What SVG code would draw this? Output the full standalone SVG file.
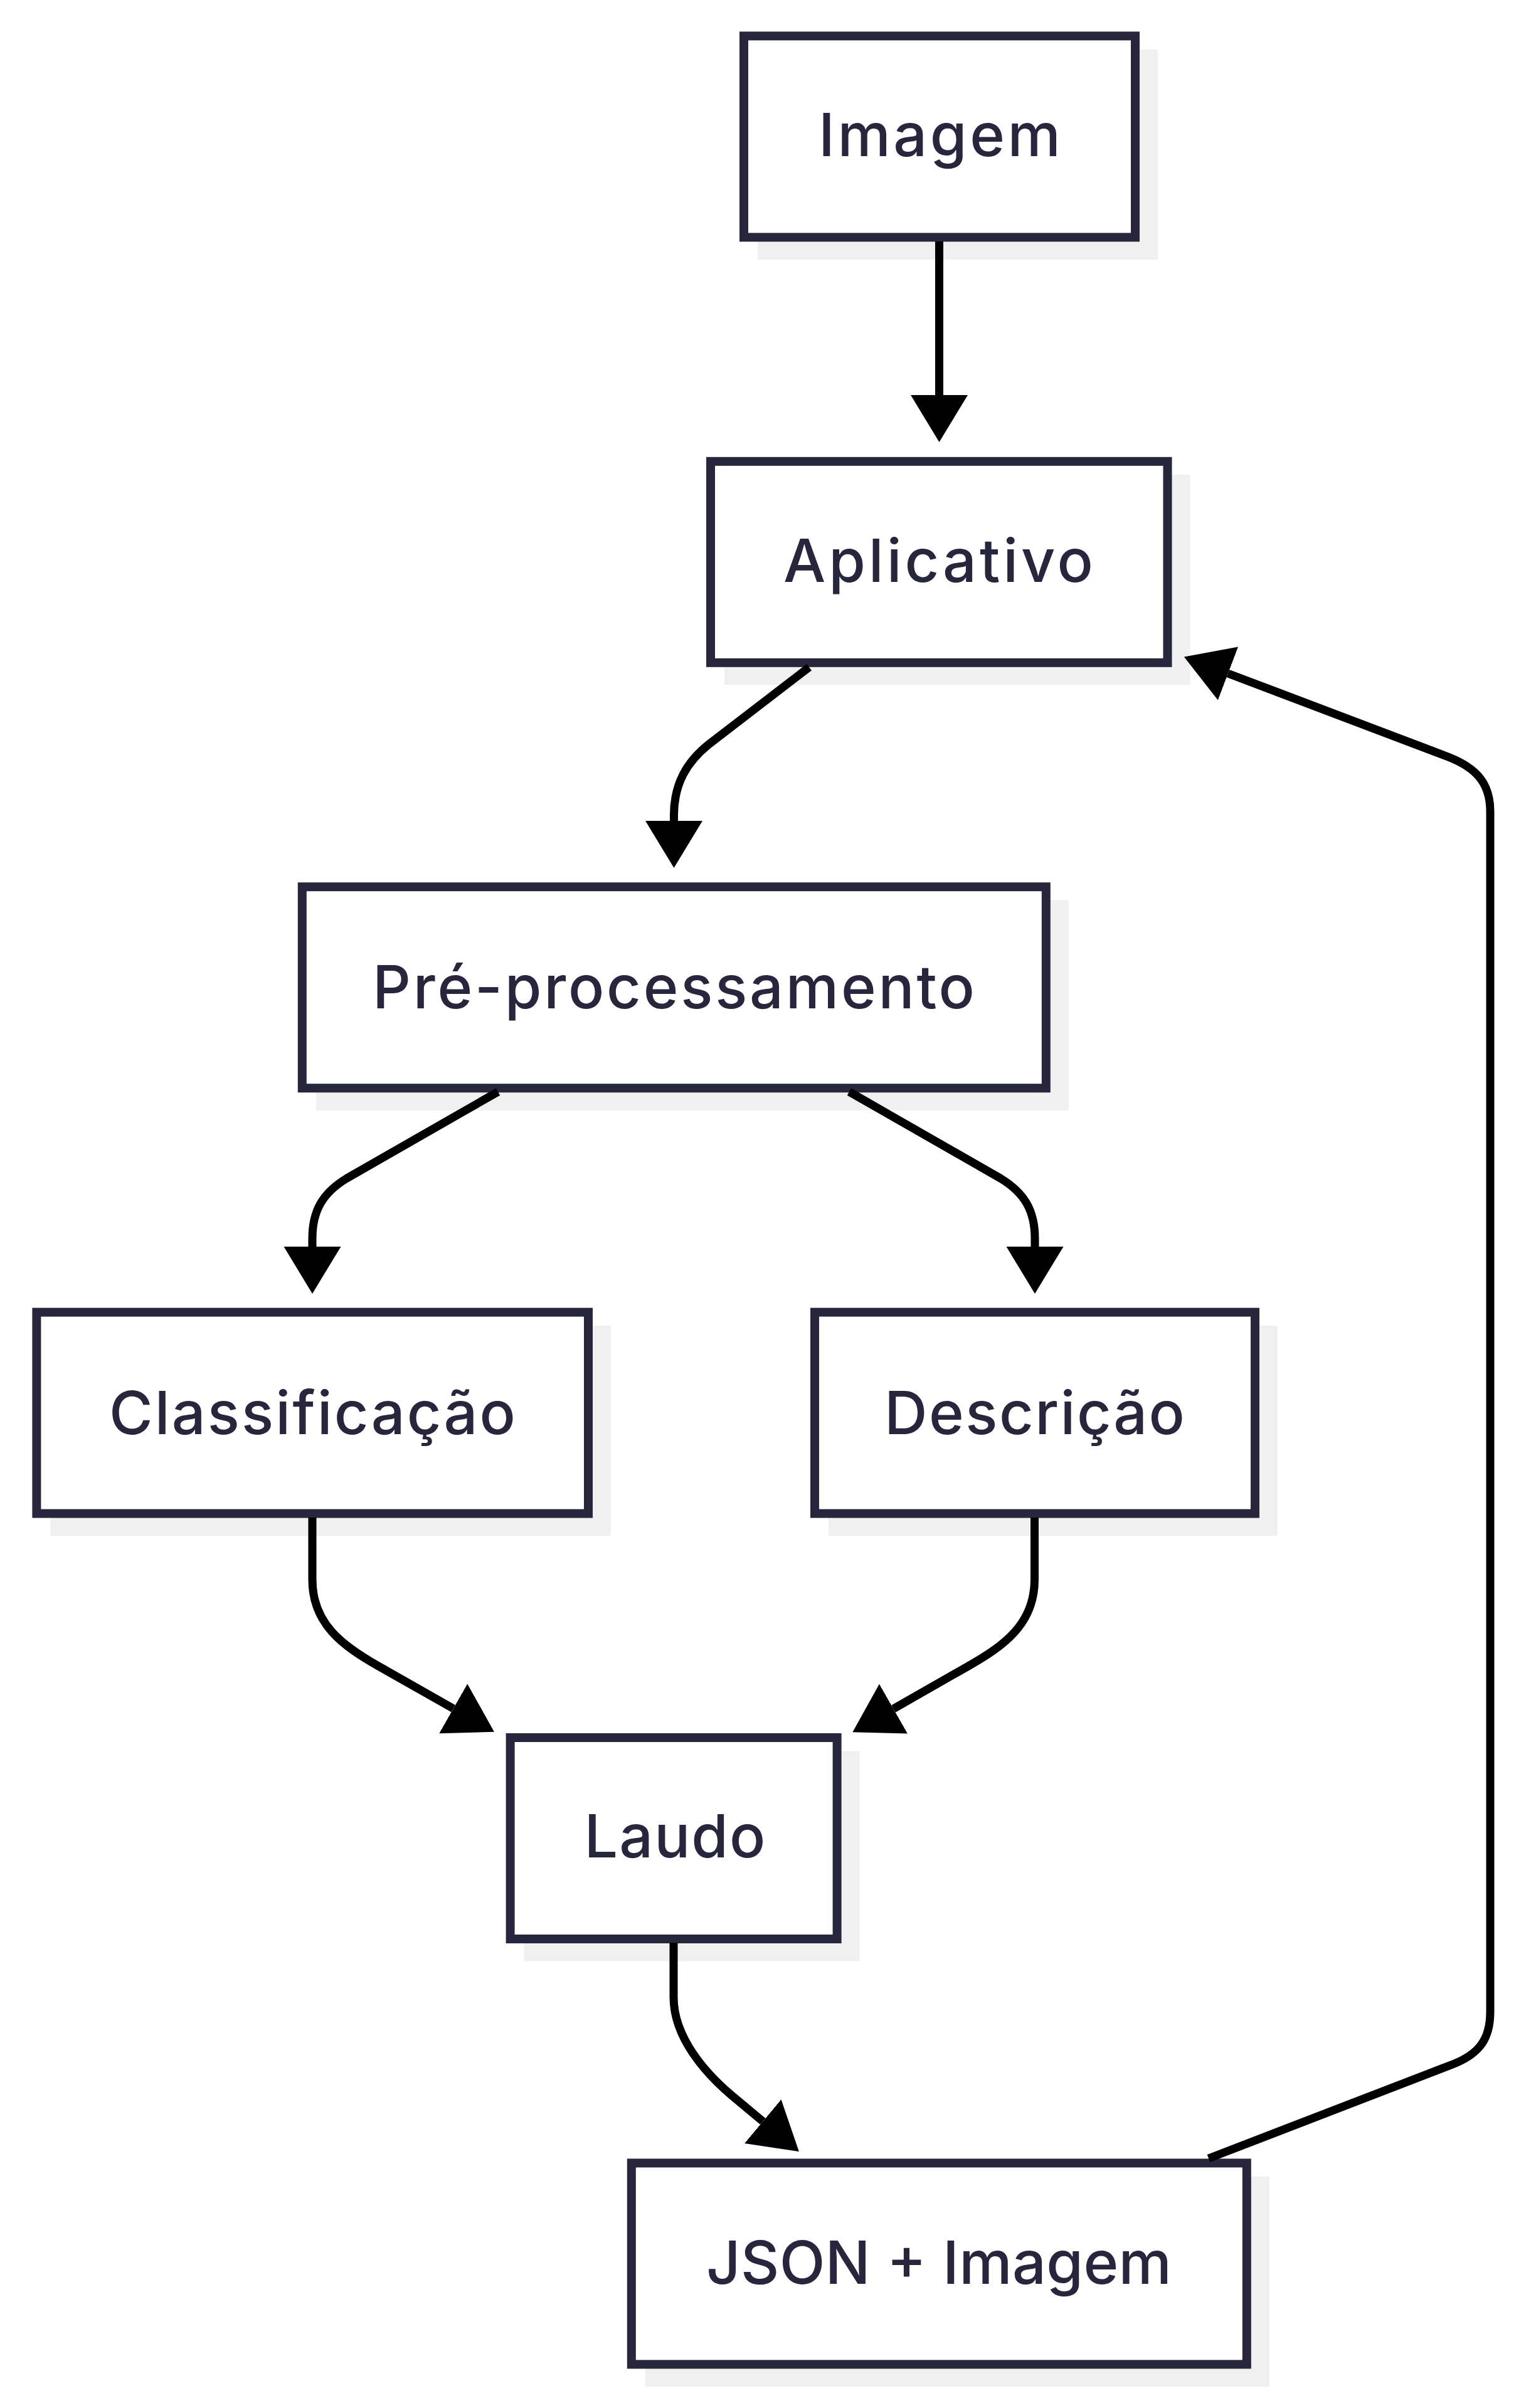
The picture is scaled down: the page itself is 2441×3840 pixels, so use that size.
<svg xmlns="http://www.w3.org/2000/svg" width="2441" height="3840" viewBox="0 0 2441 3840">
<style>
.shadow{fill:#f0f0f0;stroke:none}
.box{fill:#ffffff;stroke:#27263d;stroke-width:14}
.label{font-family:Inter,"Noto Sans","DejaVu Sans",sans-serif;font-size:95px;font-weight:500;fill:#27263d;text-anchor:middle}
.edge{fill:none;stroke:#000000;stroke-width:13;stroke-linejoin:round}
</style>
<defs>
<marker id="arrow" markerUnits="userSpaceOnUse" markerWidth="76" markerHeight="92" refX="0" refY="45.5" orient="auto" viewBox="0 0 76 92">
<path d="M0,0 L75,45.5 L0,91 Z" fill="#000000"/>
</marker>
</defs>
<rect width="2441" height="3840" fill="#ffffff"/>
<g id="node-imagem">
<rect class="shadow" x="1208" y="79" width="638" height="335"/>
<rect class="box" x="1186" y="57.4" width="624" height="321"/>
<text class="label" x="1498" y="248.5" textLength="386" lengthAdjust="spacing">Imagem</text>
</g>
<g id="node-aplicativo">
<rect class="shadow" x="1155" y="757" width="742.5" height="335"/>
<rect class="box" x="1133" y="735.8" width="728.5" height="321"/>
<text class="label" x="1496" y="927.7" textLength="494" lengthAdjust="spacing">Aplicativo</text>
</g>
<g id="node-preprocessamento">
<rect class="shadow" x="504" y="1435.5" width="1200" height="335"/>
<rect class="box" x="481.8" y="1414.2" width="1186" height="321"/>
<text class="label" x="1074" y="1607.5" textLength="960" lengthAdjust="spacing">Pré-processamento</text>
</g>
<g id="node-classificacao">
<rect class="shadow" x="80.4" y="2114" width="893.6" height="335"/>
<rect class="box" x="58.4" y="2092.6" width="879.6" height="321"/>
<text class="label" x="498" y="2286.5" textLength="648" lengthAdjust="spacing">Classificação</text>
</g>
<g id="node-descricao">
<rect class="shadow" x="1321" y="2114" width="716" height="335"/>
<rect class="box" x="1299" y="2092.6" width="702" height="321"/>
<text class="label" x="1649.5" y="2286.5" textLength="479" lengthAdjust="spacing">Descrição</text>
</g>
<g id="node-laudo">
<rect class="shadow" x="835.6" y="2792.5" width="535" height="335"/>
<rect class="box" x="813.6" y="2771" width="521" height="321"/>
<text class="label" x="1076" y="2962" textLength="289" lengthAdjust="spacing">Laudo</text>
</g>
<g id="node-json">
<rect class="shadow" x="1028.8" y="3471" width="995" height="335"/>
<rect class="box" x="1006.8" y="3449.4" width="981" height="321"/>
<text class="label" x="1497" y="3641.6" textLength="742" lengthAdjust="spacing">JSON + Imagem</text>
</g>
<g id="edges">
<path class="edge" d="M1497.5 385 L1497.5 630" marker-end="url(#arrow)"/>
<path class="edge" d="M1290 1064 L1130 1187 C1095 1215 1074.5 1250 1074.5 1300 L1074.5 1309" marker-end="url(#arrow)"/>
<path class="edge" d="M794 1741 L553 1879 C515 1902 498 1930 498 1975 L498 1988" marker-end="url(#arrow)"/>
<path class="edge" d="M1354 1741 L1595 1879 C1633 1902 1650 1930 1650 1975 L1650 1988" marker-end="url(#arrow)"/>
<path class="edge" d="M498 2420 L498 2519 C498 2590 547 2625 603.5 2657 L722.7 2724.7" marker-end="url(#arrow)"/>
<path class="edge" d="M1649.5 2420 L1649.5 2519 C1649.5 2590 1600 2625 1543.7 2657 L1424.5 2725" marker-end="url(#arrow)"/>
<path class="edge" d="M1074 3098 L1074 3185 C1074 3250 1126 3307 1166 3341 L1216.3 3383" marker-end="url(#arrow)"/>
<path class="edge" d="M1927 3442 L2316 3292 C2360 3275 2376 3250 2376 3208 L2376 1294 C2376 1250 2355 1225 2309 1207 L1958 1074" marker-end="url(#arrow)"/>
</g>
</svg>
